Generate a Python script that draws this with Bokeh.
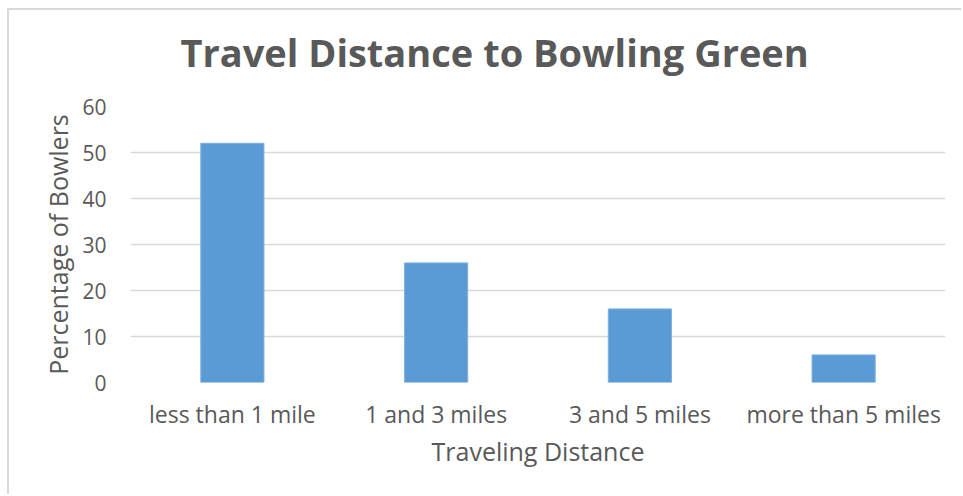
from bokeh.plotting import figure
from bokeh.models import Range1d, FixedTicker, Title
from bokeh.embed import file_html
from bokeh.resources import INLINE

# Share of bowlers by distance travelled to the green
categories = ["less than 1 mile", "1 and 3 miles", "3 and 5 miles", "more than 5 miles"]
percentages = [52, 26, 16, 6]
y_ticks = [0, 10, 20, 30, 40, 50, 60]

TEXT = "#595959"
GRID = "#D9D9D9"
BAR = "#5B9BD5"
FONT = "Open Sans"

p = figure(
    x_range=categories,
    y_range=Range1d(0, 60),
    width=954, height=486,
    output_backend="svg", toolbar_location=None,
    min_border_left=121, min_border_right=18,
    min_border_top=96, min_border_bottom=114,
)
p.styles = {
    "margin-left": "7px", "margin-top": "8px",
    "border-left": "2px solid #D9D9D9", "border-top": "2px solid #D9D9D9",
}

p.vbar(x=categories, top=percentages, width=0.31,
       fill_color=BAR, line_color="#7FB0DD", line_width=1)

# blank panel between the frame and the title, to lift the title up
p.add_layout(Title(text=" ", text_font=FONT, text_font_size="10px", standoff=13), "above")
p.add_layout(Title(text="Travel Distance to Bowling Green", align="left",
                   vertical_align="bottom",
                   text_font=FONT, text_font_size="38px", text_font_style="bold",
                   text_color=TEXT, offset=50, standoff=0), "above")

p.outline_line_color = None
p.background_fill_color = "white"
p.border_fill_color = "white"

p.xgrid.grid_line_color = None
p.ygrid.grid_line_color = GRID
p.ygrid.grid_line_width = 1.5

p.yaxis.ticker = FixedTicker(ticks=y_ticks)
for ax in (p.xaxis, p.yaxis):
    ax.axis_line_color = None
    ax.major_tick_line_color = None
    ax.minor_tick_line_color = None
    ax.major_label_text_font = FONT
    ax.major_label_text_color = TEXT
    ax.axis_label_text_font = FONT
    ax.axis_label_text_font_size = "25px"
    ax.axis_label_text_font_style = "normal"
    ax.axis_label_text_color = TEXT

p.xaxis.major_label_text_font_size = "23px"
p.yaxis.major_label_text_font_size = "21px"

p.xaxis.axis_label = "Traveling Distance"
p.yaxis.axis_label = "Percentage of Bowlers"
p.xaxis.major_label_standoff = 9
p.xaxis.axis_label_standoff = 1
p.yaxis.major_label_standoff = 18
p.yaxis.axis_label_standoff = 4

open("out.html", "w").write(file_html(p, INLINE))
